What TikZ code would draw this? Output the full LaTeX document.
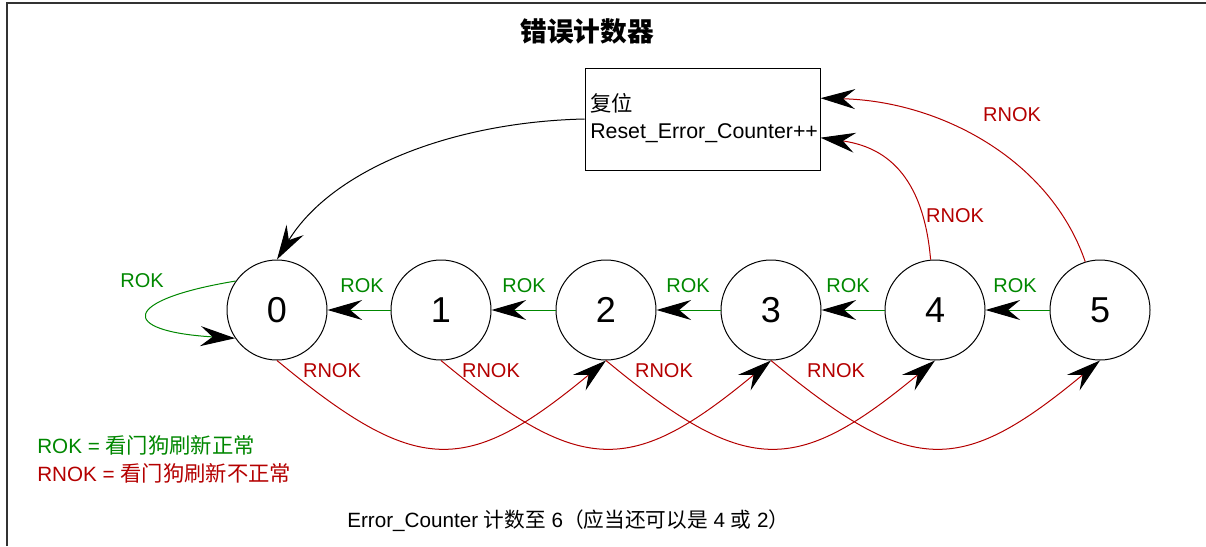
\documentclass[tikz,border=0pt]{standalone}
\usepackage{fontspec}
\setmainfont{Liberation Sans}
\newfontfamily\cjk{Noto Sans CJK SC}
\usetikzlibrary{arrows.meta}
\definecolor{okgreen}{RGB}{0,135,0}
\definecolor{nokred}{RGB}{180,0,0}
\tikzset{
  state/.style={circle, draw, line width=0.75pt, minimum size=75pt, inner sep=0pt,
    font=\fontsize{27}{30}\selectfont},
  blacktip/.style={-{Stealth[length=26pt,width=15pt,inset=9pt,color=black]}},
  okline/.style={blacktip, okgreen, line width=0.75pt},
  nokline/.style={blacktip, nokred, line width=0.75pt},
  resetline/.style={blacktip, black, line width=0.75pt},
  oklabel/.style={text=okgreen, font=\fontsize{15}{18}\selectfont},
  noklabel/.style={text=nokred, font=\fontsize{15}{18}\selectfont},
  plain/.style={font=\fontsize{15.5}{18}\selectfont},
}
\begin{document}
\begin{tikzpicture}[x=0.75pt, y=-0.75pt]
\useasboundingbox (0,0) rectangle (1206,546);
% frame
\draw[black!80, line width=1.1pt] (7,546) -- (7,3) -- (1206,3);

% title
\node[font=\fontsize{20}{24}\selectfont\cjk\bfseries] (title) at (587,31) {错误计数器};

% reset box
\node[draw, line width=0.75pt, minimum width=176.25pt, minimum height=76.5pt, inner sep=0pt]
  (box) at (702.5,119) {};
\node[anchor=west, align=left, inner sep=0pt, font=\fontsize{16}{20}\selectfont]
  (boxtext) at (590,118) {{\cjk 复位}\\Reset\_Error\_Counter++};

% states
\foreach \i/\x in {0/277,1/441,2/606,3/771,4/935,5/1100}
  \node[state] (n\i) at (\x,310) {\i};

% ROK: step back by one
\draw[okline] (n1) -- (n0);
\draw[okline] (n2) -- (n1);
\draw[okline] (n3) -- (n2);
\draw[okline] (n4) -- (n3);
\draw[okline] (n5) -- (n4);
\node[oklabel] (l01) at (362,286) {ROK};
\node[oklabel] (l12) at (524,286) {ROK};
\node[oklabel] (l23) at (688,286) {ROK};
\node[oklabel] (l34) at (848,286) {ROK};
\node[oklabel] (l45) at (1015,286) {ROK};

% ROK self loop on 0
\draw[okline] (n0.145) .. controls +(-115,19) and +(-117,-7) .. (n0.214);
\node[oklabel] (l00) at (142,281) {ROK};

% RNOK: step forward by two
\draw[nokline] (n0.south) .. controls +(140,116) and +(-140,116) .. (n2.south);
\draw[nokline] (n1.south) .. controls +(140,116) and +(-140,116) .. (n3.south);
\draw[nokline] (n2.south) .. controls +(140,116) and +(-140,116) .. (n4.south);
\draw[nokline] (n3.south) .. controls +(140,116) and +(-140,116) .. (n5.south);
\node[noklabel] (r02) at (332,371) {RNOK};
\node[noklabel] (r13) at (491,371) {RNOK};
\node[noklabel] (r24) at (664,371) {RNOK};
\node[noklabel] (r35) at (836,371) {RNOK};

% RNOK from 4 and 5 into the reset box
\draw[nokline] (n4.95) .. controls +(-8,-95) and +(55,8) .. (box.-9.2);
\draw[nokline] (n5.107) .. controls +(-35,-102) and +(120,3) .. (box.10.6);
\node[noklabel] (r4b) at (955,216) {RNOK};
\node[noklabel] (r5b) at (1012,115) {RNOK};

% reset back to 0
\draw[resetline] (box.west) .. controls +(-133,3) and +(55,-90) .. (n0.north);

% legend
\node[oklabel, anchor=west, inner sep=0pt] (leg1) at (37,445)
  {\fontsize{15.5}{18}\selectfont ROK = {\cjk\fontsize{16}{18}\selectfont 看门狗刷新正常}};
\node[noklabel, anchor=west, inner sep=0pt] (leg2) at (37,473)
  {\fontsize{15.5}{18}\selectfont RNOK = {\cjk\fontsize{16}{18}\selectfont 看门狗刷新不正常}};

% note
\node[plain, anchor=west, inner sep=0pt] (note) at (347,521)
  {Error\_Counter {\cjk 计数至} 6{\cjk （应当还可以是} 4 {\cjk 或} 2{\cjk ）}};
\end{tikzpicture}
\end{document}
